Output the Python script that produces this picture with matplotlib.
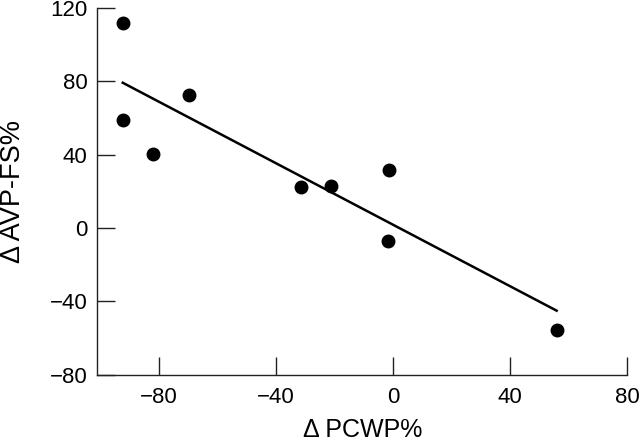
import numpy as np
import matplotlib
matplotlib.use("Agg")
import matplotlib.pyplot as plt

# values
pcwp = [-92.3, -92.3, -82.1, -69.8, -31.5, -21.1, -1.2, -1.6, 55.9]
avp_fs = [111.8, 59.1, 40.3, 72.4, 22.6, 23.0, 31.7, -7.0, -55.6]
xticks = [-80, -40, 0, 40, 80]
yticks = [-80, -40, 0, 40, 80, 120]

plt.rcParams['font.family'] = ['Liberation Sans', 'DejaVu Sans']

fig = plt.figure(figsize=(6.4, 4.41), dpi=100)
ax = fig.add_axes([0.152, 0.150, 0.828, 0.832])

ax.plot(pcwp, avp_fs, 'o', color='black', markersize=9)

# least squares line over the range of the data
slope, icept = np.polyfit(pcwp, avp_fs, 1)
xs = np.array([min(pcwp), max(pcwp)])
ax.plot(xs, slope * xs + icept, color='black', linewidth=1.8)

ax.set_xlim(-101, 80)
ax.set_ylim(-80, 120)
ax.set_xticks(xticks)
ax.set_yticks(yticks)
ax.spines['top'].set_visible(False)
ax.spines['right'].set_visible(False)
for s in ['left', 'bottom']:
    ax.spines[s].set_linewidth(1.0)
    ax.spines[s].set_color('#222222')
ax.tick_params(direction='in', length=13, width=1.0, colors='#222222',
               labelsize=16, labelcolor='black')
ax.tick_params(axis='y', pad=7)
ax.tick_params(axis='x', pad=9)

ax.set_xlabel('Δ PCWP%', fontsize=18, labelpad=7)
ax.set_ylabel('Δ AVP-FS%', fontsize=19.5, labelpad=17)

fig.savefig('out.png', dpi=100)
